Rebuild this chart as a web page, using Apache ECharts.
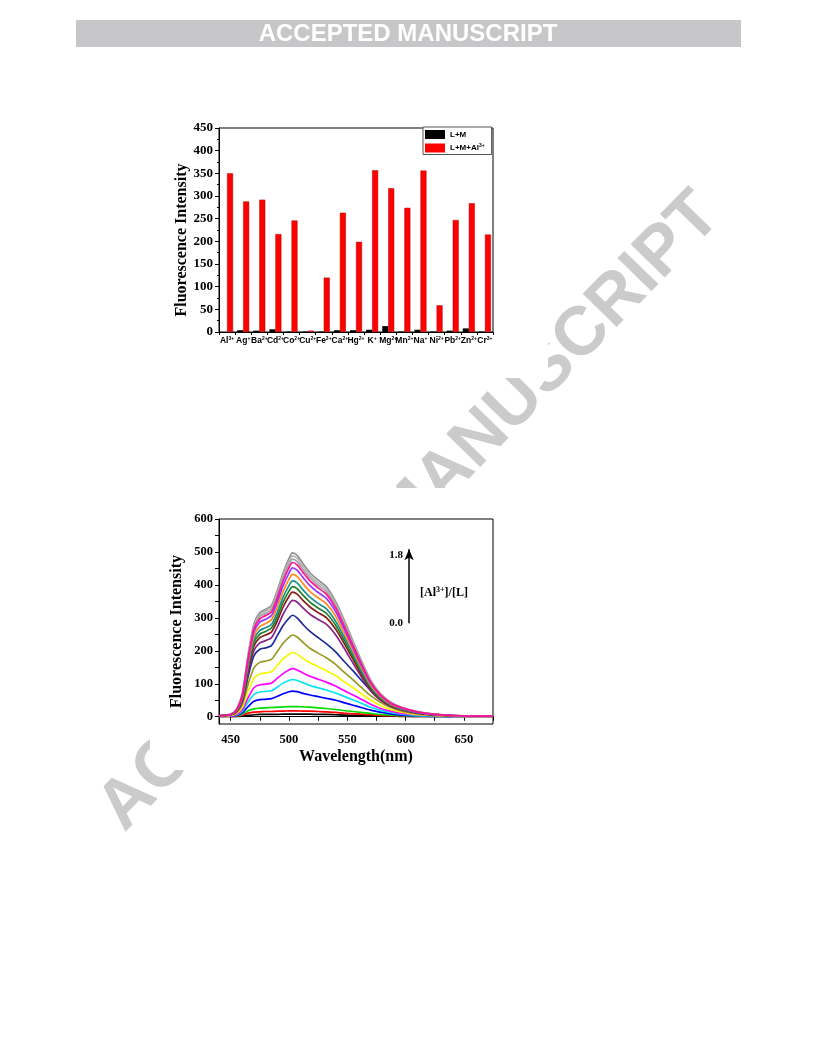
<!DOCTYPE html>
<html>
<head>
<meta charset="utf-8">
<script src="https://cdn.jsdelivr.net/npm/echarts@6/dist/echarts.min.js"></script>
<style>
html,body{margin:0;padding:0;background:#fff;}
#c{width:816px;height:1056px;}
</style>
</head>
<body>
<div id="c"></div>
<script>
// ---------- Bar chart data ----------
const ions = ['Al','Ag','Ba','Cd','Co','Cu','Fe','Ca','Hg','K','Mg','Mn','Na','Ni','Pb','Zn','Cr'];
const charges = ['3+','+','2+','2+','2+','2+','3+','2+','2+','+','2+','2+','+','2+','2+','2+','3+'];
const valuesLM = [0,4,3,6,1,1,1,4,4,5,13,1,5,1,3,8,1];
const valuesLMAl = [350,288,292,216,246,3,120,263,199,357,317,274,356,59,247,284,215];
const barYTicks = [0,450,50];

// ---------- Titration spectra data ----------
const wavelengths = [440,450,455,460,465,470,475,480,485,490,495,500,503,507,512,518,525,532,540,547,555,562,570,578,587,597,610,625,640,655,675];
const specBlack   = [1,1,1,2,4,6,7,7,7,7,8,8,8,8,8,8,7,7,6,5,4,4,3,2,2,1,1,1,1,1,1];
const specRed     = [1,1,2,5,11,14,15,16,16,17,17,18,18,18,17,17,16,15,13,11,9,8,6,4,3,2,1,1,1,1,1];
const specGreen   = [1,2,3,8,18,24,26,27,28,29,30,31,31,31,30,29,27,25,22,19,16,13,10,7,5,3,2,1,1,1,1];
const specBlue    = [2,2,4,12,31,47,52,53,55,62,70,76,78,76,71,66,61,56,50,43,35,28,20,14,9,5,3,1,1,1,1];
const specCyan    = [2,3,6,17,45,68,75,77,79,90,102,110,113,110,103,95,88,81,72,62,51,41,29,20,13,8,4,2,1,1,1];
const specMagenta = [2,3,7,22,58,88,97,99,102,117,131,142,146,142,133,123,114,105,93,80,66,53,38,26,17,10,6,3,1,1,1];
const specYellow  = [2,4,10,29,78,117,130,133,137,156,176,189,195,190,177,164,152,140,125,107,88,70,51,35,22,14,7,4,2,1,1];
const specOlive   = [2,5,12,37,99,149,165,169,174,198,223,241,248,242,226,208,193,179,159,136,112,89,64,45,29,17,9,4,2,2,2];
const specNavy    = [3,6,15,46,123,185,205,209,216,246,277,299,308,300,280,259,240,222,197,169,139,111,80,55,35,22,12,6,3,2,2];
const specPurple  = [3,6,16,50,134,201,224,231,240,272,311,341,353,348,330,311,295,281,249,210,162,122,79,51,32,20,11,6,3,2,2];
const specDarkRed = [3,6,17,53,144,215,240,248,257,291,333,365,378,372,353,333,316,301,266,225,174,130,85,55,34,22,12,6,3,2,2];
const specDkGreen = [3,6,18,55,150,225,251,259,269,304,348,381,395,389,369,348,330,314,278,235,182,136,89,57,36,23,13,6,3,2,2];
const specTeal    = [3,7,19,58,157,235,262,270,280,317,363,398,412,406,385,363,344,328,290,245,190,142,93,60,37,23,13,7,3,2,2];
const specOrange  = [3,7,19,60,164,246,274,283,294,333,380,417,432,426,404,380,361,343,305,257,199,149,97,63,39,25,14,7,3,2,2];
const specViolet  = [3,7,20,63,172,258,287,296,307,348,398,436,452,445,423,398,377,359,319,269,208,156,102,66,41,26,14,7,4,2,2];
const specPink    = [3,7,21,66,178,267,297,307,318,360,412,452,468,461,438,412,391,372,330,278,215,161,105,68,42,27,15,7,4,2,2];
const specGray1   = [3,8,21,67,182,272,304,313,325,368,421,461,478,471,447,421,399,380,337,284,220,165,108,69,43,27,15,8,4,2,2];
const specGray2   = [3,8,22,68,185,278,310,320,332,376,429,471,488,481,456,429,407,388,344,290,224,168,110,71,44,28,16,8,4,2,2];
const specGray3   = [3,8,22,70,189,283,316,326,338,383,437,480,497,490,465,437,415,395,350,296,229,171,112,72,45,28,16,8,4,2,2];
const lineXLabels = [450,500,550,600,650];
const lineXTicks = [450,475,500,525,550,575,600,625,650,675];
const lineYLabels = [0,100,200,300,400,500,600];
const lineYTicks = [0,50,100,150,200,250,300,350,400,450,500,550,600];
const ratioRange = ['0.0','1.8'];

const spectra = [
  [specGray3,'#8f8f8f'],[specGray2,'#b4b4b4'],[specGray1,'#a2a2a2'],
  [specBlack,'#000000'],[specRed,'#ff0000'],[specGreen,'#00dd00'],[specBlue,'#0000ff'],
  [specCyan,'#00e4f4'],[specMagenta,'#ff00ff'],[specYellow,'#f6f600'],[specOlive,'#9a9a22'],
  [specNavy,'#1d2b9b'],[specPurple,'#892389'],[specDarkRed,'#8b1a1a'],[specDkGreen,'#1f801f'],
  [specTeal,'#1a9090'],[specOrange,'#ff8c1a'],[specViolet,'#9933ff'],[specPink,'#ff1493']
];

const serif = '"Liberation Serif", "Times New Roman", serif';
const sans = '"Liberation Sans", Arial, sans-serif';

const chart = echarts.init(document.getElementById('c'));

const lineSeries = spectra.map((s, k) => ({
  type: 'line',
  name: 'spec' + k,
  xAxisIndex: 1, yAxisIndex: 1,
  data: wavelengths.map((w, i) => [w, s[0][i]]),
  showSymbol: false, symbol: 'none',
  smooth: 0.25,
  lineStyle: { color: s[1], width: 1.7 },
  itemStyle: { color: s[1] },
  silent: true, z: 3
}));

lineSeries.push({
  type: 'line', name: 'arrow', xAxisIndex: 1, yAxisIndex: 1, data: [],
  markLine: {
    silent: true, animation: false,
    symbol: ['none', 'arrow'], symbolSize: [7, 11],
    label: { show: false },
    lineStyle: { color: '#000', width: 1.5, type: 'solid' },
    data: [[{ coord: [603, 284] }, { coord: [603, 508] }]]
  }
});

const option = {
  animation: false,
  backgroundColor: '#ffffff',
  grid: [
    { left: 219, top: 128, width: 274, height: 204, show: true, borderColor: '#000', borderWidth: 1, backgroundColor: 'transparent' },
    { left: 219, top: 519, width: 274, height: 205, show: true, borderColor: '#000', borderWidth: 1, backgroundColor: 'transparent' }
  ],
  legend: {
    data: ['L+M', 'L+M+Al3+'],
    orient: 'vertical', left: 423, top: 127,
    padding: [3, 7, 2, 2], itemGap: 4, itemWidth: 20, itemHeight: 9,
    icon: 'rect',
    backgroundColor: '#fff', borderColor: '#555', borderWidth: 1,
    itemStyle: { borderWidth: 0 },
    formatter: n => n === 'L+M' ? '{b|L+M}' : '{b|L+M+Al}{s|3+}',
    textStyle: {
      rich: {
        b: { fontFamily: sans, fontWeight: 'bold', fontSize: 8, color: '#000', lineHeight: 10 },
        s: { fontFamily: sans, fontWeight: 'bold', fontSize: 5, color: '#000', verticalAlign: 'top', lineHeight: 10 }
      }
    }
  },
  xAxis: [
    {
      type: 'category', gridIndex: 0, data: ions,
      axisLine: { lineStyle: { color: '#000', width: 1 } },
      axisTick: { show: true, interval: 0, length: 3, lineStyle: { color: '#000' } },
      axisLabel: {
        interval: 0, margin: 4, hideOverlap: false,
        formatter: (v, i) => '{b|' + v + '}{s|' + charges[i] + '}',
        rich: {
          b: { fontFamily: sans, fontWeight: 'bold', fontSize: 8.5, color: '#000', lineHeight: 10 },
          s: { fontFamily: sans, fontWeight: 'bold', fontSize: 5, color: '#000', verticalAlign: 'top', lineHeight: 10 }
        }
      },
      splitLine: { show: false }
    },
    {
      type: 'value', gridIndex: 1, min: 440, max: 675,
      axisLine: { lineStyle: { color: '#000', width: 1 } },
      axisTick: { show: true, length: 4, customValues: lineXTicks, lineStyle: { color: '#000' } },
      axisLabel: { customValues: lineXLabels, margin: 9, fontFamily: serif, fontWeight: 'bold', fontSize: 12.5, color: '#000' },
      splitLine: { show: false },
      name: 'Wavelength(nm)', nameLocation: 'middle', nameGap: 25,
      nameTextStyle: { fontFamily: serif, fontWeight: 'bold', fontSize: 16, color: '#000' }
    }
  ],
  yAxis: [
    {
      type: 'value', gridIndex: 0, min: barYTicks[0], max: barYTicks[1], interval: barYTicks[2],
      axisLine: { show: true, lineStyle: { color: '#000', width: 1 } },
      axisTick: { show: true, length: 4, lineStyle: { color: '#000' } },
      minorTick: { show: true, splitNumber: 2, length: 2, lineStyle: { color: '#000' } },
      splitLine: { show: false }, minorSplitLine: { show: false },
      axisLabel: { margin: 6, fontFamily: serif, fontWeight: 'bold', fontSize: 13, color: '#000' },
      name: 'Fluorescence Intensity', nameLocation: 'middle', nameGap: 29,
      nameTextStyle: { fontFamily: serif, fontWeight: 'bold', fontSize: 16, color: '#000', padding: [0, 20, 0, 0] }
    },
    {
      type: 'value', gridIndex: 1, min: -22, max: 600,
      axisLine: { show: true, lineStyle: { color: '#000', width: 1 } },
      axisTick: { show: true, length: 4, customValues: lineYTicks, lineStyle: { color: '#000' } },
      splitLine: { show: false },
      axisLabel: { customValues: lineYLabels, margin: 6, fontFamily: serif, fontWeight: 'bold', fontSize: 12.5, color: '#000' },
      name: 'Fluorescence Intensity', nameLocation: 'middle', nameGap: 34,
      nameTextStyle: { fontFamily: serif, fontWeight: 'bold', fontSize: 16, color: '#000', padding: [0, 20, 0, 0] }
    }
  ],
  series: [
    {
      type: 'bar', name: 'L+M', xAxisIndex: 0, yAxisIndex: 0, data: valuesLM,
      barWidth: 6, barGap: '0%', itemStyle: { color: '#000000' }, z: 3
    },
    {
      type: 'bar', name: 'L+M+Al3+', xAxisIndex: 0, yAxisIndex: 0, data: valuesLMAl,
      barWidth: 6, barGap: '0%', itemStyle: { color: '#ff0000', borderColor: '#b00000', borderWidth: 0.5 }, z: 3
    }
  ].concat(lineSeries),
  graphic: [
    { type: 'text', x: 410, y: 512, rotation: 45.8 * Math.PI / 180, z: -10,
      style: { text: 'ACCEPTED MANUSCRIPT', fill: '#cbcbcb', font: 'bold 69px ' + sans, align: 'center', verticalAlign: 'middle', textAlign: 'center', textVerticalAlign: 'middle' } },
    { type: 'rect', z: -5, shape: { x: 150, y: 97, width: 398, height: 281 }, style: { fill: '#ffffff' } },
    { type: 'rect', z: -5, shape: { x: 150, y: 488, width: 398, height: 282 }, style: { fill: '#ffffff' } },
    { type: 'rect', z: 0, shape: { x: 76, y: 20, width: 665, height: 27 }, style: { fill: '#c7c7c9' } },
    { type: 'text', x: 408, y: 34, z: 1,
      style: { text: 'ACCEPTED MANUSCRIPT', fill: '#ffffff', font: 'bold 24px ' + sans, align: 'center', verticalAlign: 'middle', textAlign: 'center', textVerticalAlign: 'middle' } },
    { type: 'text', x: 403, y: 555, z: 10,
      style: { text: ratioRange[1], fill: '#000', font: 'bold 11px ' + serif, align: 'right', verticalAlign: 'middle', textAlign: 'right', textVerticalAlign: 'middle' } },
    { type: 'text', x: 403, y: 623, z: 10,
      style: { text: ratioRange[0], fill: '#000', font: 'bold 11px ' + serif, align: 'right', verticalAlign: 'middle', textAlign: 'right', textVerticalAlign: 'middle' } },
    { type: 'text', x: 420, y: 593, z: 10,
      style: { text: '{a|[Al}{s|3+}{a|]/[L]}', align: 'left', verticalAlign: 'middle', textAlign: 'left', textVerticalAlign: 'middle',
        rich: {
          a: { fontFamily: serif, fontWeight: 'bold', fontSize: 12, fill: '#000', color: '#000', lineHeight: 14 },
          s: { fontFamily: serif, fontWeight: 'bold', fontSize: 8, fill: '#000', color: '#000', verticalAlign: 'top', lineHeight: 14 }
        } } }
  ]
};
chart.setOption(option);
</script>
</body>
</html>
